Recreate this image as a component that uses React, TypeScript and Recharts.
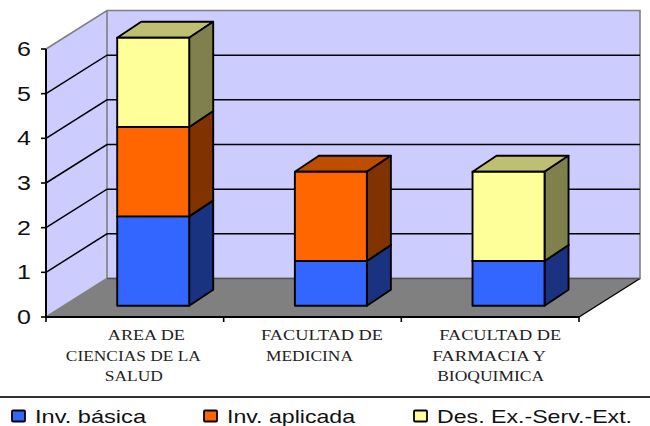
import { BarChart, Bar, XAxis, YAxis, CartesianGrid, Legend } from 'recharts';

const categories = ['AREA DE CIENCIAS DE LA SALUD', 'FACULTAD DE MEDICINA', 'FACULTAD DE FARMACIA Y BIOQUIMICA'];
const invBasica = [2, 1, 1];
const invAplicada = [2, 2, 0];
const desExt = [2, 0, 2];
const yTicks = [0, 1, 2, 3, 4, 5, 6];
const seriesKeys = ['basica', 'aplicada', 'des'];
const categoryLines = [
    ['AREA DE', 'CIENCIAS DE LA', 'SALUD'],
    ['FACULTAD DE', 'MEDICINA'],
    ['FACULTAD DE', 'FARMACIA Y', 'BIOQUIMICA'],
];

// start offset from band centre and drawn width of each label line
const lineLayout = [
    [[-27, 77], [-69, 135], [-30, 58]],
    [[-51.5, 122], [-46.5, 87]],
    [[-51, 122], [-58, 114], [-53, 107]],
];
const lineBaselines = [23, 44, 64];

const data = categories.map((name, i) => ({
    name,
    basica: invBasica[i],
    aplicada: invAplicada[i],
    des: desExt[i],
}));

const WIDTH = 650;
const HEIGHT = 426;
const LEFT = 46;
const RIGHT = 579;
const TOP = 49;
const BOTTOM = 317;

// 3D projection of the box
const WALL_DX = 61;
const WALL_DY = 38.5;
const BAR_SHIFT_X = 18.2;
const BAR_SHIFT_Y = 11.3;
const BAR_DX = 24;
const BAR_DY = 16;

const shades: Record<string, { side: string; top: string }> = {
    '#3366FF': { side: '#1A3380', top: '#264DBF' },
    '#FF6600': { side: '#803300', top: '#BF4D00' },
    '#FFFF99': { side: '#80804D', top: '#BFBF73' },
};

function Box3D(props: any) {
    const { x, y, width, height, fill } = props;
    if (!height) return <g />;
    const fx = x + BAR_SHIFT_X;
    const fy = y - BAR_SHIFT_Y;
    const shade = shades[fill];
    const line = { stroke: '#000', strokeWidth: 1.9, strokeLinejoin: 'round' as const };
    return (
        <g>
            <polygon
                points={`${fx},${fy} ${fx + BAR_DX},${fy - BAR_DY} ${fx + width + BAR_DX},${fy - BAR_DY} ${fx + width},${fy}`}
                fill={shade.top}
                {...line}
            />
            <polygon
                points={`${fx + width},${fy} ${fx + width + BAR_DX},${fy - BAR_DY} ${fx + width + BAR_DX},${fy + height - BAR_DY} ${fx + width},${fy + height}`}
                fill={shade.side}
                {...line}
            />
            <rect x={fx} y={fy} width={width} height={height} fill={fill} {...line} />
        </g>
    );
}

function Walls() {
    const bx = LEFT + WALL_DX;
    const rx = RIGHT + WALL_DX;
    const ty = TOP - WALL_DY;
    const by = BOTTOM - WALL_DY;
    return (
        <g>
            <polygon points={`${bx},${ty} ${rx},${ty} ${rx},${by} ${bx},${by}`} fill="#CCCCFF" />
            <polygon points={`${LEFT},${TOP} ${bx},${ty} ${bx},${by} ${LEFT},${BOTTOM}`} fill="#CCCCFF" />
            <polygon points={`${LEFT},${BOTTOM} ${bx},${by} ${rx},${by} ${RIGHT},${BOTTOM}`} fill="#808080" />
            <polyline
                points={`${LEFT},${TOP} ${bx},${ty} ${rx},${ty} ${rx},${by} ${bx},${by} ${bx},${ty}`}
                fill="none"
                stroke="#808080"
                strokeWidth={1.6}
            />
            <line x1={bx} y1={by} x2={LEFT} y2={BOTTOM} stroke="#808080" strokeWidth={1.6} />
            <line x1={rx} y1={by} x2={RIGHT} y2={BOTTOM} stroke="#000" strokeWidth={1.4} />
            <line x1={bx} y1={by} x2={rx} y2={by} stroke="#555" strokeWidth={1.6} />
        </g>
    );
}

// The grid layer sits under everything else, so the walls are drawn with its first line
function GridLine(props: any) {
    const { y1, index } = props;
    const inside = y1 < BOTTOM - 1 && y1 > TOP + 1;
    return (
        <g>
            {index === 0 && <Walls />}
            {inside && (
                <polyline
                    points={`${LEFT},${y1} ${LEFT + WALL_DX},${y1 - WALL_DY} ${RIGHT + WALL_DX},${y1 - WALL_DY}`}
                    fill="none"
                    stroke="#000"
                    strokeWidth={1.5}
                />
            )}
        </g>
    );
}

function YTick(props: any) {
    const { x, y, payload } = props;
    return (
        <text
            transform={`translate(${x - 8},${y + 7}) scale(1.25,1)`}
            textAnchor="end"
            fontFamily="Liberation Sans"
            fontSize={20}
            fill="#111"
        >
            {payload.value}
        </text>
    );
}

function XTick(props: any) {
    const { x, y, index } = props;
    const half = (RIGHT - LEFT) / categories.length / 2;
    return (
        <g>
            <line x1={x + half} x2={x + half} y1={y} y2={y + 5} stroke="#000" strokeWidth={1.6} />
            {index === 0 && <line x1={x - half} x2={x - half} y1={y} y2={y + 5} stroke="#000" strokeWidth={1.6} />}
            {categoryLines[index].map((t, i) => (
                <text
                    key={t}
                    x={x + lineLayout[index][i][0]}
                    y={y + lineBaselines[i]}
                    fontFamily="Liberation Serif"
                    fontSize={14}
                    fill="#222"
                    textLength={lineLayout[index][i][1]}
                    lengthAdjust="spacingAndGlyphs"
                >
                    {t}
                </text>
            ))}
        </g>
    );
}

const legendStart = [12, 204, 414];
const legendWidths = [111, 128, 195];

function ChartLegend({ payload }: any) {
    const items = seriesKeys.map((k) => (payload || []).find((p: any) => p.dataKey === k)).filter(Boolean);
    return (
        <svg width={WIDTH} height={30} style={{ display: 'block' }}>
            <line x1={0} x2={WIDTH} y1={1} y2={1} stroke="#333" strokeWidth={1.8} />
            {items.map((p: any, i: number) => (
                <g key={p.value}>
                    <rect x={legendStart[i]} y={14.5} width={13} height={11} fill={p.color} stroke="#000" strokeWidth={1.8} rx={1} />
                    <text
                        x={legendStart[i] + 23}
                        y={27}
                        fontFamily="Liberation Sans"
                        fontSize={18.5}
                        fill="#111"
                        textLength={legendWidths[i]}
                        lengthAdjust="spacingAndGlyphs"
                    >
                        {p.value}
                    </text>
                </g>
            ))}
        </svg>
    );
}

export default function App() {
    return (
        <div style={{ position: 'absolute', left: 0, top: 0, width: WIDTH, height: HEIGHT }}>
            <BarChart
                width={WIDTH}
                height={HEIGHT}
                data={data}
                barSize={72}
                margin={{ top: TOP, right: WIDTH - RIGHT, bottom: 0, left: 0 }}
            >
                <CartesianGrid vertical={false} horizontal={GridLine} />
                <XAxis
                    dataKey="name"
                    interval={0}
                    height={79}
                    tickLine={false}
                    tickSize={0}
                    tickMargin={0}
                    tick={XTick}
                    axisLine={{ stroke: '#000', strokeWidth: 2 }}
                />
                <YAxis
                    width={LEFT}
                    domain={[0, 6]}
                    ticks={yTicks}
                    tickSize={5}
                    tick={YTick}
                    tickLine={{ stroke: '#000', strokeWidth: 1.6 }}
                    axisLine={{ stroke: '#000', strokeWidth: 2 }}
                />
                <Bar dataKey="basica" name="Inv. básica" stackId="a" fill="#3366FF" shape={Box3D} isAnimationActive={false} />
                <Bar dataKey="aplicada" name="Inv. aplicada" stackId="a" fill="#FF6600" shape={Box3D} isAnimationActive={false} />
                <Bar dataKey="des" name="Des. Ex.-Serv.-Ext." stackId="a" fill="#FFFF99" shape={Box3D} isAnimationActive={false} />
                <Legend
                    content={ChartLegend}
                    height={30}
                    wrapperStyle={{ left: 0, bottom: 0, width: WIDTH, margin: 0 }}
                />
            </BarChart>
        </div>
    );
}
